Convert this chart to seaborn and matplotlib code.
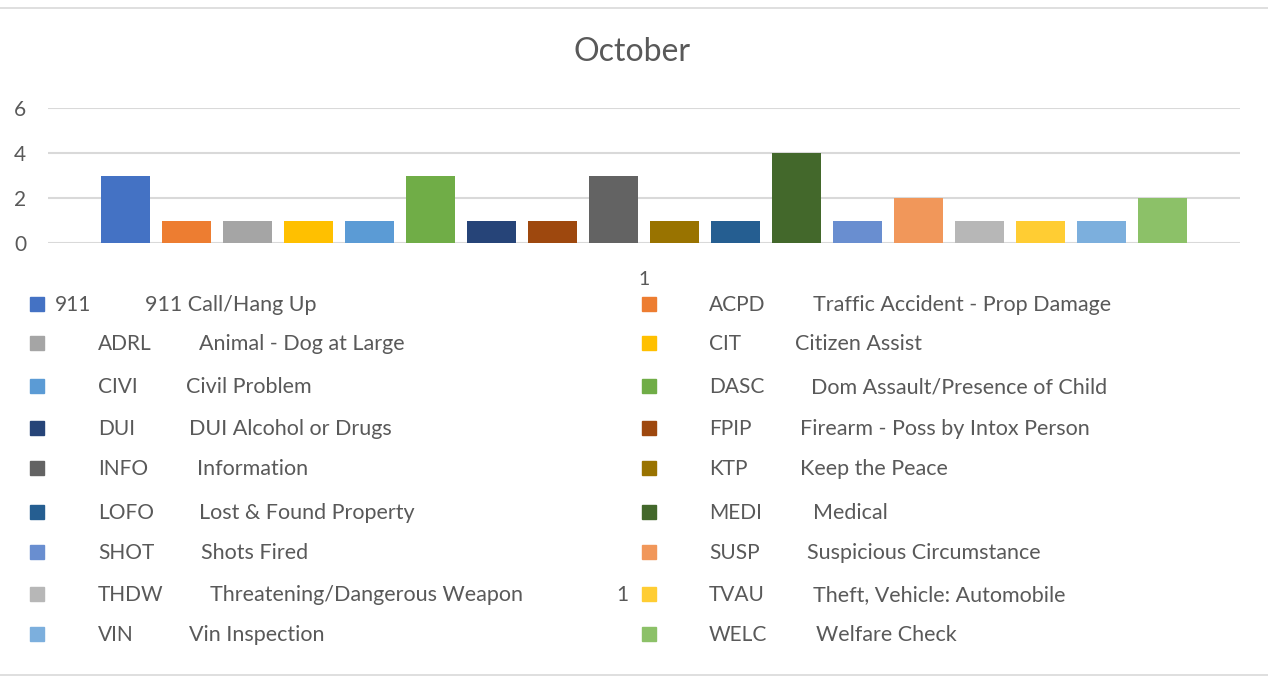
import matplotlib
matplotlib.use("Agg")
import matplotlib.pyplot as plt
from matplotlib.lines import Line2D
from matplotlib.patches import Rectangle
import pandas as pd
import seaborn as sns

# -- data ---------------------------------------------------------------
codes = ["911", "ACPD", "ADRL", "CIT", "CIVI", "DASC", "DUI", "FPIP", "INFO",
         "KTP", "LOFO", "MEDI", "SHOT", "SUSP", "THDW", "TVAU", "VIN", "WELC"]
descriptions = ["911 Call/Hang Up", "Traffic Accident - Prop Damage",
                "Animal - Dog at Large", "Citizen Assist", "Civil Problem",
                "Dom Assault/Presence of Child", "DUI Alcohol or Drugs",
                "Firearm - Poss by Intox Person", "Information", "Keep the Peace",
                "Lost & Found Property", "Medical", "Shots Fired",
                "Suspicious Circumstance", "Threatening/Dangerous Weapon",
                "Theft, Vehicle: Automobile", "Vin Inspection", "Welfare Check"]
counts = [3, 1, 1, 1, 1, 3, 1, 1, 3, 1, 1, 4, 1, 2, 1, 1, 1, 2]
category = "1"
title = "October"
colors = ["#4472C4", "#ED7D31", "#A5A5A5", "#FFC000", "#5B9BD5", "#70AD47",
          "#264478", "#9E480E", "#636363", "#997300", "#255E91", "#43682B",
          "#698ED0", "#F1975A", "#B7B7B7", "#FFCD33", "#7CAFDD", "#8CC168"]

# legend layout (pixel x of description text, per entry) - mimics the tab stops
desc_x = [145, 813, 199, 795, 186, 811, 189, 800, 197, 800,
          199, 813, 201, 807, 210, 813, 189, 816]
row_y = [304, 343, 386, 428, 468, 512, 552, 594, 634]

TEXT = "#595959"
W, H = 1268, 678

sns.set_theme(style="white")
plt.rcParams["font.family"] = ["Lato", "DejaVu Sans"]

df = pd.DataFrame({"cat": [category] * len(codes), "code": codes, "count": counts})

fig = plt.figure(figsize=(W / 100, H / 100), dpi=100)
ax = fig.add_axes([48 / W, 1 - 243 / H, (1240 - 48) / W, (243 - 108) / H])

sns.barplot(data=df, x="cat", y="count", hue="code", hue_order=codes,
            palette=colors, saturation=1, width=0.921, gap=0.21,
            errorbar=None, linewidth=0, legend=False, ax=ax, zorder=3)

ax.set_xlim(-0.5, 0.5)
ax.set_ylim(0, 6)
ax.set_yticks([0, 2, 4, 6])
ax.grid(axis="y", color="#d9d9d9", linewidth=1.5, zorder=0)
for s in ax.spines.values():
    s.set_visible(False)
ax.set_xlabel("")
ax.set_ylabel("")
ax.tick_params(axis="y", length=0, pad=24.5, labelsize=15, labelcolor=TEXT)
ax.tick_params(axis="x", length=0, pad=20, labelsize=14, labelcolor=TEXT)
for lbl in ax.get_yticklabels():
    lbl.set_horizontalalignment("left")

fig.text(632 / W, 1 - 52 / H, title, ha="center", va="center",
         fontsize=23, color=TEXT)

# -- legend --------------------------------------------------------------
for i, (code, desc, col) in enumerate(zip(codes, descriptions, colors)):
    right = i % 2 == 1
    y = row_y[i // 2]
    mx = 642 if right else 30
    fig.add_artist(Rectangle((mx / W, 1 - (y + 7) / H), 14 / W, 14 / H,
                             transform=fig.transFigure, color=col))
    cx = 709 if right else (55 if i == 0 else 98)
    fig.text(cx / W, 1 - (y + 7) / H, code, ha="left", va="baseline",
             fontsize=15, color=TEXT)
    fig.text(desc_x[i] / W, 1 - (y + 7) / H, desc, ha="left", va="baseline",
             fontsize=15.5, color=TEXT)

fig.text(622 / W, 1 - (594 + 7) / H, "1", ha="center", va="baseline",
         fontsize=15, color=TEXT)

# chart frame lines
for yy in (8, 675):
    fig.add_artist(Line2D([0, 1], [1 - yy / H] * 2, transform=fig.transFigure,
                          color="#d9d9d9", linewidth=1.2))

fig.savefig("out.png", dpi=100, facecolor="white")
